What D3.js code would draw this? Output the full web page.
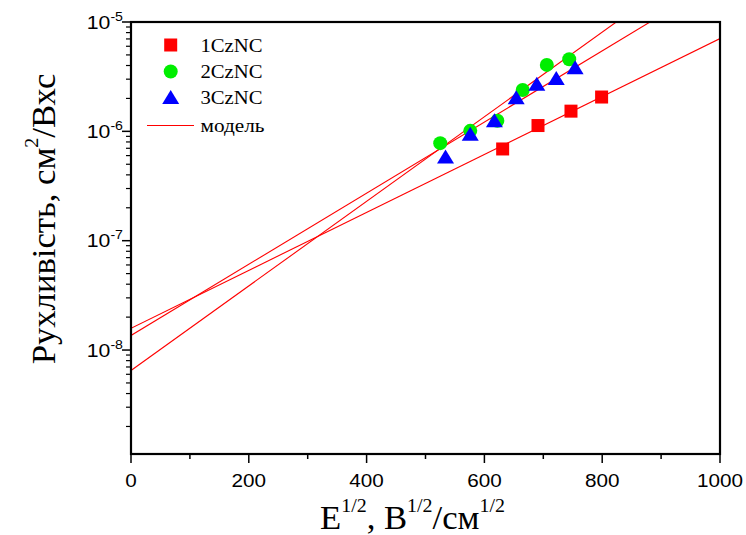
<!DOCTYPE html>
<html>
<head>
<meta charset="utf-8">
<script src="https://cdn.jsdelivr.net/npm/d3@7"></script>
<style>
  body { margin: 0; background: #fff; }
  svg { display: block; }
</style>
</head>
<body>
<svg id="chart" width="746" height="535"></svg>
<script>
// Mobility vs square root of field, three compounds + Poole–Frenkel type model lines
const seriesNames = ["1CzNC", "2CzNC", "3CzNC"];
const seriesColors = ["#ff0000", "#00ee00", "#0000ff"];

const field1 = [631, 691, 747, 799];
const mobility1 = [6.9e-7, 1.13e-6, 1.53e-6, 2.06e-6];

const field2 = [525, 576, 622, 665, 706, 744];
const mobility2 = [7.8e-7, 1.01e-6, 1.25e-6, 2.39e-6, 4.05e-6, 4.56e-6];

const field3 = [534, 576, 617, 654, 689, 722, 754];
const mobility3 = [5.9e-7, 9.5e-7, 1.26e-6, 2.05e-6, 2.72e-6, 3.08e-6, 3.86e-6];

// model: mu = mu0 * 10^(k * E^1/2)
const modelMu0 = [1.58e-8, 6.5e-9, 1.36e-8];
const modelK = [0.00265, 0.003868, 0.003253];

const xTicks = [0, 200, 400, 600, 800, 1000];
const xMinorTicks = [100, 300, 500, 700, 900];
const yDecades = [-8, -7, -6, -5];

const svg = d3.select("#chart");
const plotL = 131, plotR = 720, plotT = 22, plotB = 454;

const x = d3.scaleLinear().domain([0, 1000]).range([plotL, plotR]);
const y = d3.scaleLog().domain([1.12e-9, 1e-5]).range([plotB, plotT]);

svg.append("defs").append("clipPath").attr("id", "plotClip")
  .append("rect").attr("x", plotL).attr("y", plotT)
  .attr("width", plotR - plotL).attr("height", plotB - plotT);

// model lines
const modelLine = d3.line().x(d => x(d[0])).y(d => y(d[1]));
const plot = svg.append("g").attr("clip-path", "url(#plotClip)");
modelMu0.forEach((m0, i) => {
  const pts = [0, 1000].map(e => [e, m0 * Math.pow(10, modelK[i] * e)]);
  plot.append("path").attr("d", modelLine(pts))
    .attr("fill", "none").attr("stroke", "#ff0000").attr("stroke-width", 1.1);
});

// markers
const triPath = "M0,-7L8.5,7L-8.5,7Z";
function drawMarker(g, kind, cx, cy, color) {
  if (kind === 0) {
    g.append("rect").attr("x", cx - 6.5).attr("y", cy - 6.5)
      .attr("width", 13).attr("height", 13).attr("fill", color);
  } else if (kind === 1) {
    g.append("circle").attr("cx", cx).attr("cy", cy).attr("r", 7).attr("fill", color);
  } else {
    g.append("path").attr("d", triPath)
      .attr("transform", `translate(${cx},${cy})`).attr("fill", color);
  }
}
const fields = [field1, field2, field3];
const mobilities = [mobility1, mobility2, mobility3];
const markers = svg.append("g");
fields.forEach((fs, i) => {
  fs.forEach((f, j) => drawMarker(markers, i, x(f), y(mobilities[i][j]), seriesColors[i]));
});

// frame
svg.append("rect").attr("x", plotL).attr("y", plotT)
  .attr("width", plotR - plotL).attr("height", plotB - plotT)
  .attr("fill", "none").attr("stroke", "#000").attr("stroke-width", 2.2);

// x axis ticks
const axisG = svg.append("g").attr("stroke", "#000");
xTicks.forEach(t => {
  axisG.append("line").attr("x1", x(t)).attr("x2", x(t))
    .attr("y1", plotB).attr("y2", plotB + 9).attr("stroke-width", 1.5);
});
xMinorTicks.forEach(t => {
  axisG.append("line").attr("x1", x(t)).attr("x2", x(t))
    .attr("y1", plotB).attr("y2", plotB + 5).attr("stroke-width", 1.5);
});
const tickFont = "'Liberation Sans', Arial, sans-serif";
xTicks.forEach(t => {
  svg.append("text")
    .attr("transform", `translate(${x(t)},${plotB + 33}) scale(1.15,1)`)
    .attr("text-anchor", "middle")
    .attr("font-family", tickFont).attr("font-size", 18)
    .text(t);
});

// y axis ticks (log)
yDecades.forEach(p => {
  const v = Math.pow(10, p);
  axisG.append("line").attr("x1", plotL - 9).attr("x2", plotL)
    .attr("y1", y(v)).attr("y2", y(v)).attr("stroke-width", 1.5);
});
for (let p = -9; p <= -6; p++) {
  for (let m = 2; m <= 9; m++) {
    const v = m * Math.pow(10, p);
    if (v < y.domain()[0] || v > y.domain()[1]) continue;
    axisG.append("line").attr("x1", plotL - 5).attr("x2", plotL)
      .attr("y1", y(v)).attr("y2", y(v)).attr("stroke-width", 1.2);
  }
}
yDecades.forEach(p => {
  const t = svg.append("text")
    .attr("transform", `translate(${plotL - 8},${y(Math.pow(10, p)) + 6.5}) scale(1.18,1)`)
    .attr("text-anchor", "end")
    .attr("font-family", tickFont).attr("font-size", 18);
  t.append("tspan").text("10");
  t.append("tspan").attr("font-size", 12).attr("dy", -8).text("-" + (-p));
});

// axis titles
const serif = "'Liberation Serif', 'Times New Roman', serif";
const xt = svg.append("text")
  .attr("transform", "translate(320,529) scale(1.05,1)")
  .attr("font-family", serif).attr("font-size", 33);
xt.append("tspan").text("E");
xt.append("tspan").attr("font-size", 19).attr("dy", -17).text("1/2");
xt.append("tspan").attr("dy", 17).text(", B");
xt.append("tspan").attr("font-size", 19).attr("dy", -17).text("1/2");
xt.append("tspan").attr("dy", 17).text("/см");
xt.append("tspan").attr("font-size", 19).attr("dy", -17).text("1/2");

const yt = svg.append("text")
  .attr("transform", "translate(55,219) rotate(-90) scale(1.05,1)")
  .attr("text-anchor", "middle")
  .attr("font-family", serif).attr("font-size", 33);
yt.append("tspan").text("Рухливість, см");
yt.append("tspan").attr("font-size", 19).attr("dy", -17).text("2");
yt.append("tspan").attr("dy", 17).text("/Вхс");

// legend
const legend = svg.append("g");
const legendRows = [45, 71.5, 97];
seriesNames.forEach((name, i) => {
  drawMarker(legend, i, 170.7, legendRows[i], seriesColors[i]);
  legend.append("text")
    .attr("x", 200.5).attr("y", legendRows[i] + 6.5)
    .attr("textLength", 62).attr("lengthAdjust", "spacingAndGlyphs")
    .attr("font-family", serif).attr("font-size", 18).text(name);
});
legend.append("line").attr("x1", 147).attr("x2", 194)
  .attr("y1", 125.5).attr("y2", 125.5)
  .attr("stroke", "#ff0000").attr("stroke-width", 1.1);
legend.append("text")
  .attr("x", 200.5).attr("y", 132)
  .attr("textLength", 64).attr("lengthAdjust", "spacingAndGlyphs")
  .attr("font-family", serif).attr("font-size", 18).text("модель");
</script>
</body>
</html>
